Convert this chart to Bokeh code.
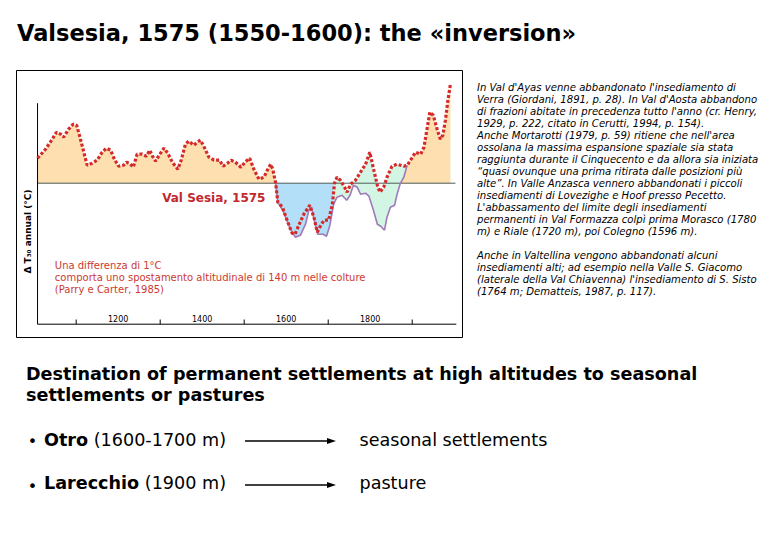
import numpy as np
from bokeh.plotting import figure
from bokeh.models import Div, Spacer, Label
from bokeh.layouts import column, row
from bokeh.embed import file_html
from bokeh.resources import INLINE
from bokeh.core.properties import value

# ---------------- data ----------------
years = [1008, 1027, 1043, 1053, 1063, 1070, 1082, 1093, 1101, 1109, 1117, 1126,
         1138, 1150, 1162, 1172, 1182, 1191, 1201, 1213, 1220, 1229, 1236, 1245,
         1257, 1267, 1275, 1283, 1289, 1299, 1309, 1318, 1329, 1342, 1350, 1360,
         1368, 1380, 1388, 1396, 1406, 1416, 1428, 1441, 1450, 1460, 1469, 1479,
         1492, 1502, 1513, 1523, 1535, 1547, 1555, 1563, 1568, 1575, 1580, 1591,
         1602, 1614, 1621, 1630, 1642, 1656, 1666, 1674, 1680, 1690, 1701, 1710,
         1715, 1721, 1729, 1739, 1745, 1753, 1765, 1777, 1789, 1799, 1807, 1817,
         1823, 1832, 1840, 1852, 1864, 1880, 1888, 1896, 1908, 1920, 1928, 1936,
         1942, 1950, 1960, 1967, 1973, 1979, 1985, 1991]
delta_t = [0.25, 0.34, 0.44, 0.51, 0.49, 0.46, 0.54, 0.59, 0.58, 0.46, 0.33, 0.18,
           0.20, 0.23, 0.31, 0.35, 0.33, 0.24, 0.17, 0.18, 0.21, 0.19, 0.16, 0.29,
           0.29, 0.27, 0.33, 0.26, 0.22, 0.29, 0.35, 0.30, 0.21, 0.14, 0.23, 0.39,
           0.42, 0.38, 0.41, 0.43, 0.35, 0.26, 0.23, 0.23, 0.17, 0.20, 0.23, 0.21,
           0.16, 0.21, 0.25, 0.14, 0.04, 0.06, 0.13, 0.19, 0.14, 0.00, -0.19, -0.24,
           -0.37, -0.50, -0.51, -0.42, -0.31, -0.22, -0.34, -0.49, -0.44, -0.37, -0.37, -0.21,
           0.00, 0.06, 0.03, -0.04, -0.09, -0.01, 0.03, 0.11, 0.19, 0.31, 0.16, -0.02,
           -0.09, -0.04, 0.06, 0.17, 0.19, 0.17, 0.18, 0.23, 0.31, 0.29, 0.36, 0.56,
           0.71, 0.68, 0.53, 0.44, 0.48, 0.63, 0.83, 0.99]

purple_years = [1575, 1580, 1594, 1610, 1622, 1634, 1646, 1654, 1660, 1667, 1675, 1688,
                1696, 1704, 1713, 1721, 1733, 1744, 1752, 1760, 1769, 1777, 1789, 1797,
                1807, 1817, 1825, 1834, 1840, 1848, 1858, 1864, 1871, 1880, 1888]
purple_t = [0.00, -0.19, -0.29, -0.46, -0.54, -0.52, -0.41, -0.27, -0.24, -0.37, -0.51, -0.51,
            -0.53, -0.42, -0.21, -0.14, -0.12, -0.17, -0.12, -0.02, -0.04, -0.11, -0.10, -0.13,
            -0.26, -0.41, -0.43, -0.47, -0.34, -0.24, -0.22, -0.11, -0.01, 0.06, 0.18]

tick_years = [1100, 1300, 1500, 1700, 1900]
label_years = [1200, 1400, 1600, 1800]
tick_labels = ["1200", "1400", "1600", "1800"]

inversion_year = 1575      # red curve goes below zero
recovery_year = 1715       # red curve back to zero
recovery_purple = 1713
purple_zero = 1871         # purple curve back to zero
join_year = 1888           # curves join again

annotation_lines = ["Una differenza di 1°C",
                    "comporta uno spostamento altitudinale di 140 m nelle colture",
                    "(Parry e Carter, 1985)"]

right_lines = [
    "In Val d'Ayas venne abbandonato l'insediamento di",
    "Verra (Giordani, 1891, p. 28). In Val d'Aosta abbandono",
    "di frazioni abitate in precedenza tutto l'anno (cr. Henry,",
    "1929, p. 222, citato in Cerutti, 1994, p. 154).",
    "Anche Mortarotti (1979, p. 59) ritiene che nell'area",
    "ossolana la massima espansione spaziale sia stata",
    "raggiunta durante il Cinquecento e da allora sia iniziata",
    "“quasi ovunque una prima ritirata dalle posizioni più",
    "alte”. In Valle Anzasca vennero abbandonati i piccoli",
    "insediamenti di Lovezighe e Hoof presso Pecetto.",
    "L'abbassamento del limite degli insediamenti",
    "permanenti in Val Formazza colpì prima Morasco (1780",
    "m) e Riale (1720 m), poi Colegno (1596 m).",
    "",
    "Anche in Valtellina vengono abbandonati alcuni",
    "insediamenti alti; ad esempio nella Valle S. Giacomo",
    "(laterale della Val Chiavenna) l'insediamento di S. Sisto",
    "(1764 m; Dematteis, 1987, p. 117).",
]

# ---------------- chart ----------------
yrs = np.array(years, dtype=float)
dt = np.array(delta_t, dtype=float)
pyrs = np.array(purple_years, dtype=float)
pdt = np.array(purple_t, dtype=float)

FONT = "DejaVu Sans"
p = figure(width=447, height=268, x_range=(957.9, 2022.1), y_range=(-1.553, 1.127),
           output_backend="svg", toolbar_location=None,
           x_axis_location=None, y_axis_location=None, min_border=0,
           outline_line_color="black", outline_line_width=1,
           background_fill_color="white", border_fill_color="white")
p.xgrid.visible = False
p.ygrid.visible = False

# orange fill before the inversion
m = yrs <= inversion_year
p.patch(list(yrs[m]) + [inversion_year, yrs[0]], list(dt[m]) + [0, 0],
        fill_color="#fddfb0", line_color=None)
# blue fill (cold period)
m = pyrs <= recovery_purple
p.patch(list(pyrs[m]) + [recovery_purple, inversion_year], list(pdt[m]) + [0, 0],
        fill_color="#b3dff8", line_color=None)
# green fill between the two curves
mr = (yrs >= recovery_year) & (yrs <= join_year)
mp = (pyrs >= recovery_purple) & (pyrs <= join_year)
p.patch(list(yrs[mr]) + list(pyrs[mp][::-1]), list(dt[mr]) + list(pdt[mp][::-1]),
        fill_color="#d3f6e4", line_color=None)
# orange fill after the join
mp = (pyrs >= purple_zero) & (pyrs <= join_year)
mr = yrs > join_year
p.patch(list(pyrs[mp]) + list(yrs[mr]) + [yrs[-1], purple_zero],
        list(pdt[mp]) + list(dt[mr]) + [0, 0],
        fill_color="#fddfb0", line_color=None)

# zero line
p.segment(x0=[yrs[0]], x1=[2003], y0=[0], y1=[0], line_color="#4f5a55", line_width=1)

# axes lines, ticks, labels
axis_y = -1.41
p.segment(x0=[yrs[0]], x1=[yrs[0]], y0=[axis_y], y1=[0.80], line_color="black", line_width=1)
p.segment(x0=[yrs[0]], x1=[2005], y0=[axis_y], y1=[axis_y], line_color="black", line_width=1)
p.segment(x0=tick_years, x1=tick_years, y0=[axis_y] * len(tick_years),
          y1=[axis_y + 0.047] * len(tick_years), line_color="black", line_width=1)
p.text(x=label_years, y=[-1.35] * len(label_years), text=tick_labels,
       text_font=value(FONT), text_font_size="8px", text_align="center",
       text_baseline="alphabetic", text_color="black")

# curves
p.line(pyrs, pdt, line_color="#a07ab8", line_width=1.6)
p.line(yrs, dt, line_color="#d42a2a", line_width=3.2, line_dash="3 2")

# texts in chart
p.add_layout(Label(x=985.8, y=-0.483, text="Δ T₃₀ annual (°C)", angle=np.pi / 2,
                   text_font=FONT, text_font_size="9px", text_font_style="bold",
                   text_align="center", text_baseline="middle", text_color="black"))
p.add_layout(Label(x=1427.6, y=-0.15, text="Val Sesia, 1575", text_font=FONT,
                   text_font_size="12px", text_font_style="bold", text_align="center",
                   text_baseline="alphabetic", text_color="#c0282d"))
p.text(x=[1049.1] * 3, y=[-0.825, -0.945, -1.065], text=annotation_lines,
       text_font=value(FONT), text_font_size="10px", text_align="left",
       text_baseline="alphabetic", text_color="#cc3a30")

# ---------------- html parts ----------------
title_div = Div(
    text=('<div style="position:relative;width:764px;height:62px;">'
          '<span style="position:absolute;left:9px;top:14px;font-family:\'DejaVu Sans\';'
          'font-weight:bold;font-size:22.5px;line-height:1;white-space:nowrap;color:#000;">'
          'Valsesia, 1575 (1550-1600): the «inversion»</span></div>'),
    width=764, height=62, margin=0)

right_div = Div(
    text=('<div style="padding-top:12px;padding-left:1px;font-family:\'DejaVu Sans\';'
          'font-style:italic;font-size:10.1px;line-height:12px;white-space:nowrap;color:#000;">'
          + "<br>".join(right_lines) + '</div>'),
    width=296, height=268, margin=0)


def arrow(top):
    return ('<svg style="position:absolute;left:237px;top:%.1fpx;" width="92" height="10">'
            '<line x1="0" y1="5" x2="84" y2="5" stroke="black" stroke-width="1.5"/>'
            '<polygon points="82,2 91,5 82,8" fill="black"/></svg>' % top)


span_big = "position:absolute;font-family:'DejaVu Sans';font-size:17.6px;line-height:1;white-space:nowrap;color:#000;"
bullet = "position:absolute;font-family:'DejaVu Sans';font-size:16px;line-height:1;color:#000;"
bottom_html = (
    '<div style="position:relative;width:764px;height:186px;">'
    f'<span style="{span_big}left:18px;top:27.5px;font-weight:bold;">'
    'Destination of permanent settlements at high altitudes to seasonal</span>'
    f'<span style="{span_big}left:18px;top:48.5px;font-weight:bold;">settlements or pastures</span>'
    f'<span style="{bullet}left:19.8px;top:96px;">•</span>'
    f'<span style="{span_big}left:36px;top:93.5px;"><b>Otro</b> (1600-1700 m)</span>'
    + arrow(97.7) +
    f'<span style="{span_big}left:351.5px;top:93.5px;">seasonal settlements</span>'
    f'<span style="{bullet}left:19.8px;top:140.5px;">•</span>'
    f'<span style="{span_big}left:36px;top:137.2px;"><b>Larecchio</b> (1900 m)</span>'
    + arrow(141.5) +
    f'<span style="{span_big}left:351.5px;top:137.2px;">pasture</span>'
    '</div>')
bottom_div = Div(text=bottom_html, width=764, height=186, margin=0)

inner = column(
    title_div,
    row(Spacer(width=8, height=268, margin=0), p, Spacer(width=13, height=268, margin=0),
        right_div, spacing=0, margin=0),
    bottom_div,
    spacing=0, margin=0)

layout = column(
    Spacer(width=772, height=8, margin=0),
    row(Spacer(width=8, height=516, margin=0), inner, spacing=0, margin=0),
    spacing=0, margin=0)

open("out.html", "w").write(file_html(layout, INLINE))
